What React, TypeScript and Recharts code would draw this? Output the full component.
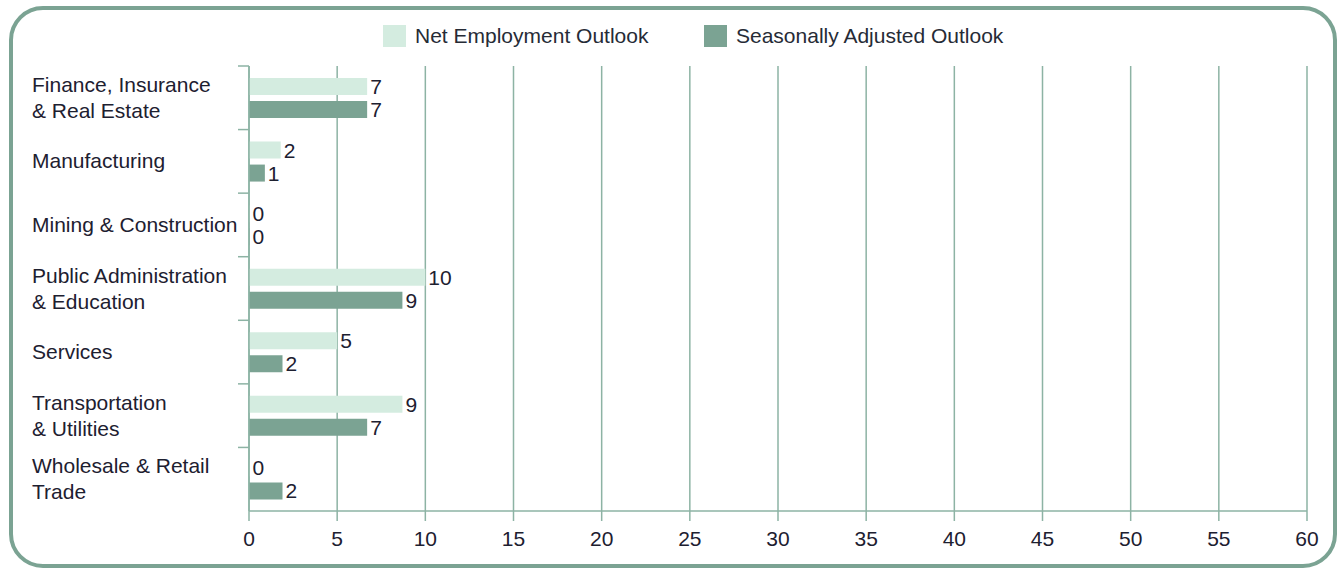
import { BarChart, Bar, XAxis, YAxis, CartesianGrid, LabelList } from 'recharts';

const categories = [
  'Finance, Insurance\n& Real Estate',
  'Manufacturing',
  'Mining & Construction',
  'Public Administration\n& Education',
  'Services',
  'Transportation\n& Utilities',
  'Wholesale & Retail\nTrade',
];
// bar lengths as measured; labels show the rounded figure
const netOutlook = [6.7, 1.8, 0, 10, 5, 8.7, 0];
const seasonalOutlook = [6.7, 0.9, 0, 8.7, 1.9, 6.7, 1.9];
const xTicks = [0, 5, 10, 15, 20, 25, 30, 35, 40, 45, 50, 55, 60];

const LIGHT = '#d4ece0';
const DARK = '#7ba393';
const GRID = '#8db3a4';
const TEXT = '#1d2030';
const FONT = '"Liberation Sans", Arial, Helvetica, sans-serif';

const W = 1338, H = 569;
const M = { top: 66, right: 31, bottom: 0, left: 0 };
const Y_W = 249, X_H = 58;
const PLOT_H = H - M.top - X_H;

const rows = categories.map((c, i) => ({ cat: c, net: netOutlook[i], sa: seasonalOutlook[i] }));
const fmt = (v: any) => String(Math.round(Number(v)));

/* category label, left aligned; tick mark drawn at the band boundary, not the centre */
function CatTick(props: any) {
  const { y, payload } = props;
  const lines = String(payload.value).split('\n');
  const bw = PLOT_H / categories.length;
  const top = y - bw / 2;
  return (
    <g>
      <line x1={Y_W - 11} x2={Y_W} y1={top} y2={top} stroke={GRID} strokeWidth={1.5} />
      <text x={32} y={y} fontSize={21} fontFamily={FONT} fill={TEXT}>
        {lines.map((l, i) => (
          <tspan key={i} x={32} y={y + (i - (lines.length - 1) / 2) * 26 + 7}>{l}</tspan>
        ))}
      </text>
    </g>
  );
}

function LegendBox() {
  const item = (color: string, label: string, left: number) => (
    <div style={{ position: 'absolute', left, top: 25, height: 22, display: 'flex', alignItems: 'center' }}>
      <span style={{ width: 23, height: 22, background: color, display: 'inline-block', marginRight: 9 }} />
      <span style={{ fontSize: 21, color: '#262b36', fontFamily: FONT, lineHeight: '22px' }}>{label}</span>
    </div>
  );
  return (
    <>
      {item(LIGHT, 'Net Employment Outlook', 383)}
      {item(DARK, 'Seasonally Adjusted Outlook', 704)}
    </>
  );
}

export default function App() {
  return (
    <div style={{ position: 'absolute', left: 0, top: 0, width: W, height: H, background: '#fff', fontFamily: FONT }}>
      <div style={{ position: 'absolute', left: 9, top: 6, width: 1328, height: 562, boxSizing: 'border-box', border: `4px solid ${DARK}`, borderRadius: 34 }} />
      <LegendBox />
      <div style={{ position: 'absolute', left: 0, top: 0 }}>
        <BarChart width={W} height={H} data={rows} layout="vertical" margin={M} barSize={17} barGap={6}>
          <CartesianGrid horizontal={false} stroke={GRID} strokeWidth={1.5} />
          <XAxis type="number" domain={[0, 60]} ticks={xTicks} interval={0} height={X_H}
            axisLine={{ stroke: GRID, strokeWidth: 1.5 }} tickLine={{ stroke: GRID, strokeWidth: 1.5 }} tickSize={10} tickMargin={10}
            tick={{ fontSize: 21, fill: TEXT, fontFamily: FONT }} />
          <YAxis type="category" dataKey="cat" width={Y_W} axisLine={{ stroke: GRID, strokeWidth: 1.5 }} tickLine={false}
            tick={<CatTick />} interval={0} />
          <Bar dataKey="net" fill={LIGHT} minPointSize={0.5} isAnimationActive={false}>
            <LabelList dataKey="net" position="right" offset={3} fontSize={21} fontFamily={FONT} fill={TEXT} formatter={fmt} />
          </Bar>
          <Bar dataKey="sa" fill={DARK} minPointSize={0.5} isAnimationActive={false}>
            <LabelList dataKey="sa" position="right" offset={3} fontSize={21} fontFamily={FONT} fill={TEXT} formatter={fmt} />
          </Bar>
        </BarChart>
      </div>
    </div>
  );
}
